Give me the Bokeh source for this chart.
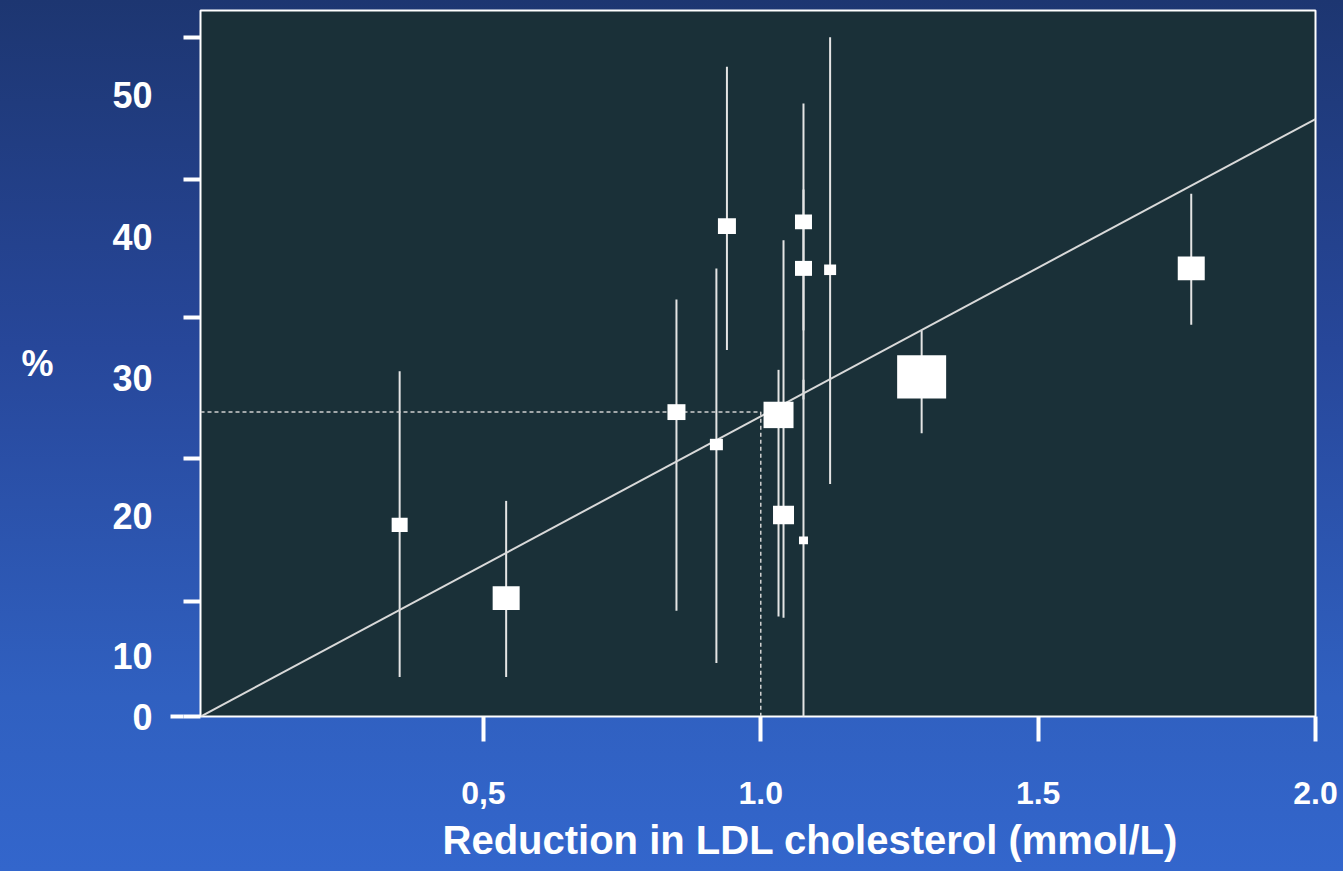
from bokeh.plotting import figure
from bokeh.models import (ColumnDataSource, LinearAxis, FixedTicker, Range1d,
                          Whisker, Title, CustomJSTickFormatter)
from bokeh.embed import file_html
from bokeh.resources import INLINE

# ---------------- data ----------------
ldl_reduction = [0.349, 0.541, 0.848, 0.920, 0.939, 1.032, 1.041, 1.077, 1.077, 1.077, 1.125, 1.290, 1.776]
risk_reduction = [13.6, 8.4, 21.6, 19.3, 34.8, 21.4, 14.3, 35.1, 31.8, 12.5, 31.7, 24.1, 31.8]
ci_upper = [24.5, 15.3, 29.6, 31.8, 46.1, 24.6, 33.8, 43.5, 37.4, 23.9, 48.2, 27.4, 37.1]
ci_lower = [2.8, 2.8, 7.5, 3.8, 26.0, 7.1, 7.0, 27.4, 22.5, -2.8, 16.5, 20.1, 27.8]
trial_weight = [16, 27, 18, 13, 18, 30, 21, 17, 17, 9, 12, 49, 27]

fit_slope = 21.1          # % per mmol/L
fit_intercept = 0.2
ref_ldl = 1.0
ref_risk = 21.6

x_tick_values = [0.5, 1, 1.5, 2]
x_tick_labels = ["0,5", "1.0", "1.5", "2.0"]
y_tick_marks = [0, 8.16, 18.3, 28.3, 38.1, 48.2]
y_label_values = [0, 4.26, 14.26, 24.0, 34.0, 44.1]
y_label_texts = ["0", "10", "20", "30", "40", "50"]

# ---------------- figure ----------------
X0, X1 = -0.01, 2.0
Y0, Y1 = 0.0, 50.1
p = figure(width=1343, height=871, output_backend="svg", toolbar_location=None,
           x_range=Range1d(X0, X1), y_range=Range1d(Y0, Y1),
           x_axis_location=None, y_axis_location=None,
           min_border_left=200, min_border_right=28, min_border_top=10, min_border_bottom=154)
p.grid.visible = False
p.background_fill_color = "#1a3038"
p.border_fill_color = None
p.outline_line_color = "white"
p.outline_line_width = 2
p.styles = {"background": "linear-gradient(to bottom, #1d3671 0%, #27479a 40%, #3060c0 80%, #3366cc 100%)"}

FONT = "Liberation Sans"

# y tick marks (no labels)
ytick_axis = LinearAxis(ticker=FixedTicker(ticks=y_tick_marks, minor_ticks=[]),
                        formatter=CustomJSTickFormatter(code="return ''"),
                        axis_line_color=None, major_tick_in=0, major_tick_out=17,
                        major_tick_line_color="white", major_tick_line_width=4,
                        minor_tick_line_color=None, major_label_standoff=0,
                        major_label_text_font_size="1px")
p.add_layout(ytick_axis, "left")

# y tick labels + axis label
ylab_axis = LinearAxis(ticker=FixedTicker(ticks=y_label_values, minor_ticks=[0]),
                       formatter=CustomJSTickFormatter(args=dict(pos=y_label_values, labs=y_label_texts),
                                                       code="const i = pos.indexOf(tick); return i >= 0 ? labs[i] : '';"),
                       axis_line_color=None, major_tick_in=0, major_tick_out=0,
                       minor_tick_in=0, minor_tick_out=13,
                       minor_tick_line_color="white", minor_tick_line_width=4,
                       major_label_standoff=18,
                       major_label_text_font=FONT, major_label_text_font_style="bold",
                       major_label_text_font_size="36px", major_label_text_color="white",
                       axis_label="%", axis_label_orientation="horizontal",
                       axis_label_standoff=56, axis_label_text_font=FONT,
                       axis_label_text_font_style="bold", axis_label_text_font_size="36px",
                       axis_label_text_color="white")
p.add_layout(ylab_axis, "left")

# x axis
xaxis = LinearAxis(ticker=FixedTicker(ticks=x_tick_values, minor_ticks=[]),
                   formatter=CustomJSTickFormatter(args=dict(pos=x_tick_values, labs=x_tick_labels),
                                                   code="const i = pos.indexOf(tick); return i >= 0 ? labs[i] : '';"),
                   axis_line_color=None, major_tick_in=0, major_tick_out=25,
                   major_tick_line_color="white", major_tick_line_width=4,
                   minor_tick_line_color=None, major_label_standoff=40,
                   major_label_text_font=FONT, major_label_text_font_style="bold",
                   major_label_text_font_size="32px", major_label_text_color="white")
p.add_layout(xaxis, "below")

xtitle = Title(text="Reduction in LDL cholesterol (mmol/L)", align="left", offset=242,
               text_font=FONT, text_font_style="bold", text_font_size="40px",
               text_color="white", standoff=19)
p.add_layout(xtitle, "below")

# confidence intervals
src = ColumnDataSource(dict(
    x=ldl_reduction, y=risk_reduction, lo=ci_lower, hi=ci_upper,
    w=trial_weight, h=[wt * 0.88 for wt in trial_weight]))
wh = Whisker(source=src, base="x", upper="hi", lower="lo", dimension="height",
             line_color="#e4e4e4", line_width=2, upper_head=None, lower_head=None,
             level="underlay")
p.add_layout(wh)

# regression line
fx = [X0, X1]
fy = [fit_intercept + fit_slope * v for v in fx]
p.line(fx, fy, line_color="#d9d9d9", line_width=2)

# dashed reference lines
p.line([X0, ref_ldl, ref_ldl], [ref_risk, ref_risk, Y0], line_color="#d0d0d0",
       line_width=1.5, line_dash="4 3")

# squares
p.rect(x="x", y="y", width="w", height="h", width_units="screen", height_units="screen",
       source=src, fill_color="white", line_color=None)

open("out.html", "w").write(file_html(p, INLINE))
